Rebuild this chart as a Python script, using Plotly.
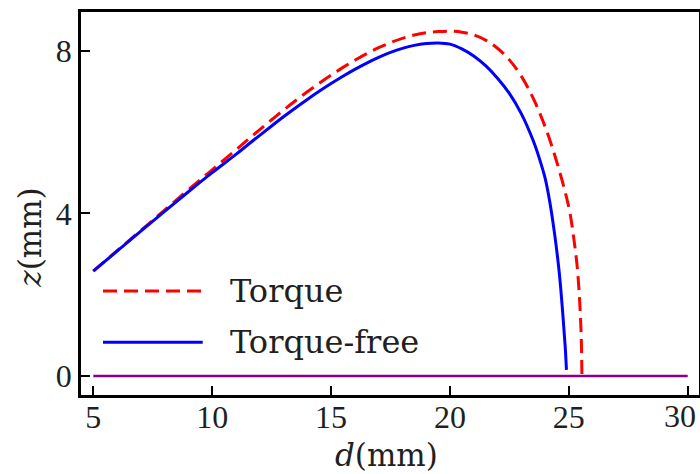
import plotly.graph_objects as go

# Torque-free (blue solid)
free_d = [5, 6, 7, 8, 9, 10, 11, 11.5, 12, 12.5, 13, 13.5, 14, 14.5, 15, 15.5, 16, 16.5, 17, 17.5, 18, 18.5, 19, 19.5, 20, 20.5, 21, 21.5, 22, 22.5, 23, 23.5, 23.75, 24, 24.2, 24.4, 24.6, 24.75, 24.85, 24.9]
free_z = [2.58, 3.07, 3.56, 4.05, 4.53, 5.00, 5.45, 5.685, 5.918, 6.148, 6.373, 6.59, 6.80, 7.00, 7.19, 7.37, 7.538, 7.693, 7.833, 7.955, 8.055, 8.13, 8.175, 8.19, 8.16, 8.045, 7.87, 7.63, 7.323, 6.948, 6.45, 5.79, 5.37, 4.87, 4.28, 3.50, 2.53, 1.50, 0.70, 0.15]

# Torque (red dashed)
torq_d = [5, 6, 7, 8, 9, 10, 11, 11.5, 12, 12.5, 13, 13.5, 14, 14.5, 15, 15.5, 16, 16.5, 17, 17.5, 18, 18.5, 19, 19.5, 20, 20.5, 21, 21.5, 22, 22.5, 23, 23.5, 24, 24.5, 25.0, 25.2, 25.35, 25.45, 25.52, 25.55]
torq_z = [2.58, 3.08, 3.58, 4.08, 4.58, 5.07, 5.56, 5.81, 6.058, 6.30, 6.538, 6.768, 6.988, 7.198, 7.398, 7.588, 7.765, 7.928, 8.073, 8.198, 8.303, 8.383, 8.438, 8.468, 8.478, 8.453, 8.388, 8.258, 8.058, 7.773, 7.373, 6.833, 6.133, 5.25, 4.15, 3.42, 2.70, 1.90, 1.00, 0.05]

# Baseline (purple)
base_d = [5, 30]
base_z = [0, 0]

x_ticks = [5, 10, 15, 20, 25, 30]
x_tick_text = ["5", "10", "15", "20", "25", ""]
last_tick_label = "30"
y_ticks = [0, 4, 8]

legend_labels = ["Torque", "Torque-free"]

TXT = "#231f20"
TICKFONT = dict(family="Liberation Serif", size=32, color=TXT)

fig = go.Figure()
fig.add_trace(go.Scatter(x=base_d, y=base_z, mode="lines",
                         line=dict(color="#8b008b", width=2.5), showlegend=False))
fig.add_trace(go.Scatter(x=torq_d, y=torq_z, mode="lines", line_shape="spline", line_smoothing=1,
                         line=dict(color="#ff0000", width=3, dash="14px,7px"), showlegend=False))
fig.add_trace(go.Scatter(x=free_d, y=free_z, mode="lines", line_shape="spline", line_smoothing=1,
                         line=dict(color="#0000ff", width=3), showlegend=False))

axis_common = dict(showline=True, linecolor="black", linewidth=2.5, mirror=True,
                   ticks="inside", ticklen=9, tickwidth=2, tickcolor="black",
                   showgrid=False, zeroline=False, ticklabeloverflow="allow", automargin=False,
                   tickfont=TICKFONT)

fig.update_xaxes(range=[4.483, 30.475], tickvals=x_ticks, ticktext=x_tick_text,
                 ticklabelstandoff=-8, **axis_common)
fig.update_yaxes(range=[-0.467, 8.95], tickvals=y_ticks, ticklabelstandoff=0, **axis_common)

# Custom legend
leg_y = [0.2715, 0.138]
leg_styles = [dict(color="#ff0000", width=3, dash="14px,7px"), dict(color="#0000ff", width=3)]
shapes = []
annotations = []
for lab, yy, st in zip(legend_labels, leg_y, leg_styles):
    shapes.append(dict(type="line", xref="paper", yref="paper", x0=0.0356, x1=0.197,
                       y0=yy, y1=yy, line=st))
    annotations.append(dict(text=lab, xref="paper", yref="paper", x=0.238, y=yy,
                            xanchor="left", yanchor="middle", showarrow=False,
                            font=dict(family="DejaVu Serif", size=32, color=TXT)))

# last x tick label, nudged left so it stays inside the page
annotations.append(dict(text=last_tick_label, xref="x", yref="paper", x=x_ticks[-1], y=-0.0548,
                        xanchor="center", yanchor="middle", xshift=-8, showarrow=False,
                        font=TICKFONT))

annotations.append(dict(text="<i>d</i>(mm)", xref="paper", yref="paper", x=0.495, y=-0.157,
                        xanchor="center", yanchor="middle", showarrow=False,
                        font=dict(family="DejaVu Serif", size=31, color=TXT)))
annotations.append(dict(text="<i>z</i>(mm)", xref="paper", yref="paper", x=-0.083, y=0.41,
                        xanchor="center", yanchor="middle", textangle=-90, showarrow=False,
                        font=dict(family="DejaVu Serif", size=31, color=TXT)))

fig.update_layout(width=700, height=474, margin=dict(l=81, r=1, t=12, b=79),
                  plot_bgcolor="white", paper_bgcolor="white",
                  shapes=shapes, annotations=annotations, showlegend=False)

fig.write_html("out.html")
